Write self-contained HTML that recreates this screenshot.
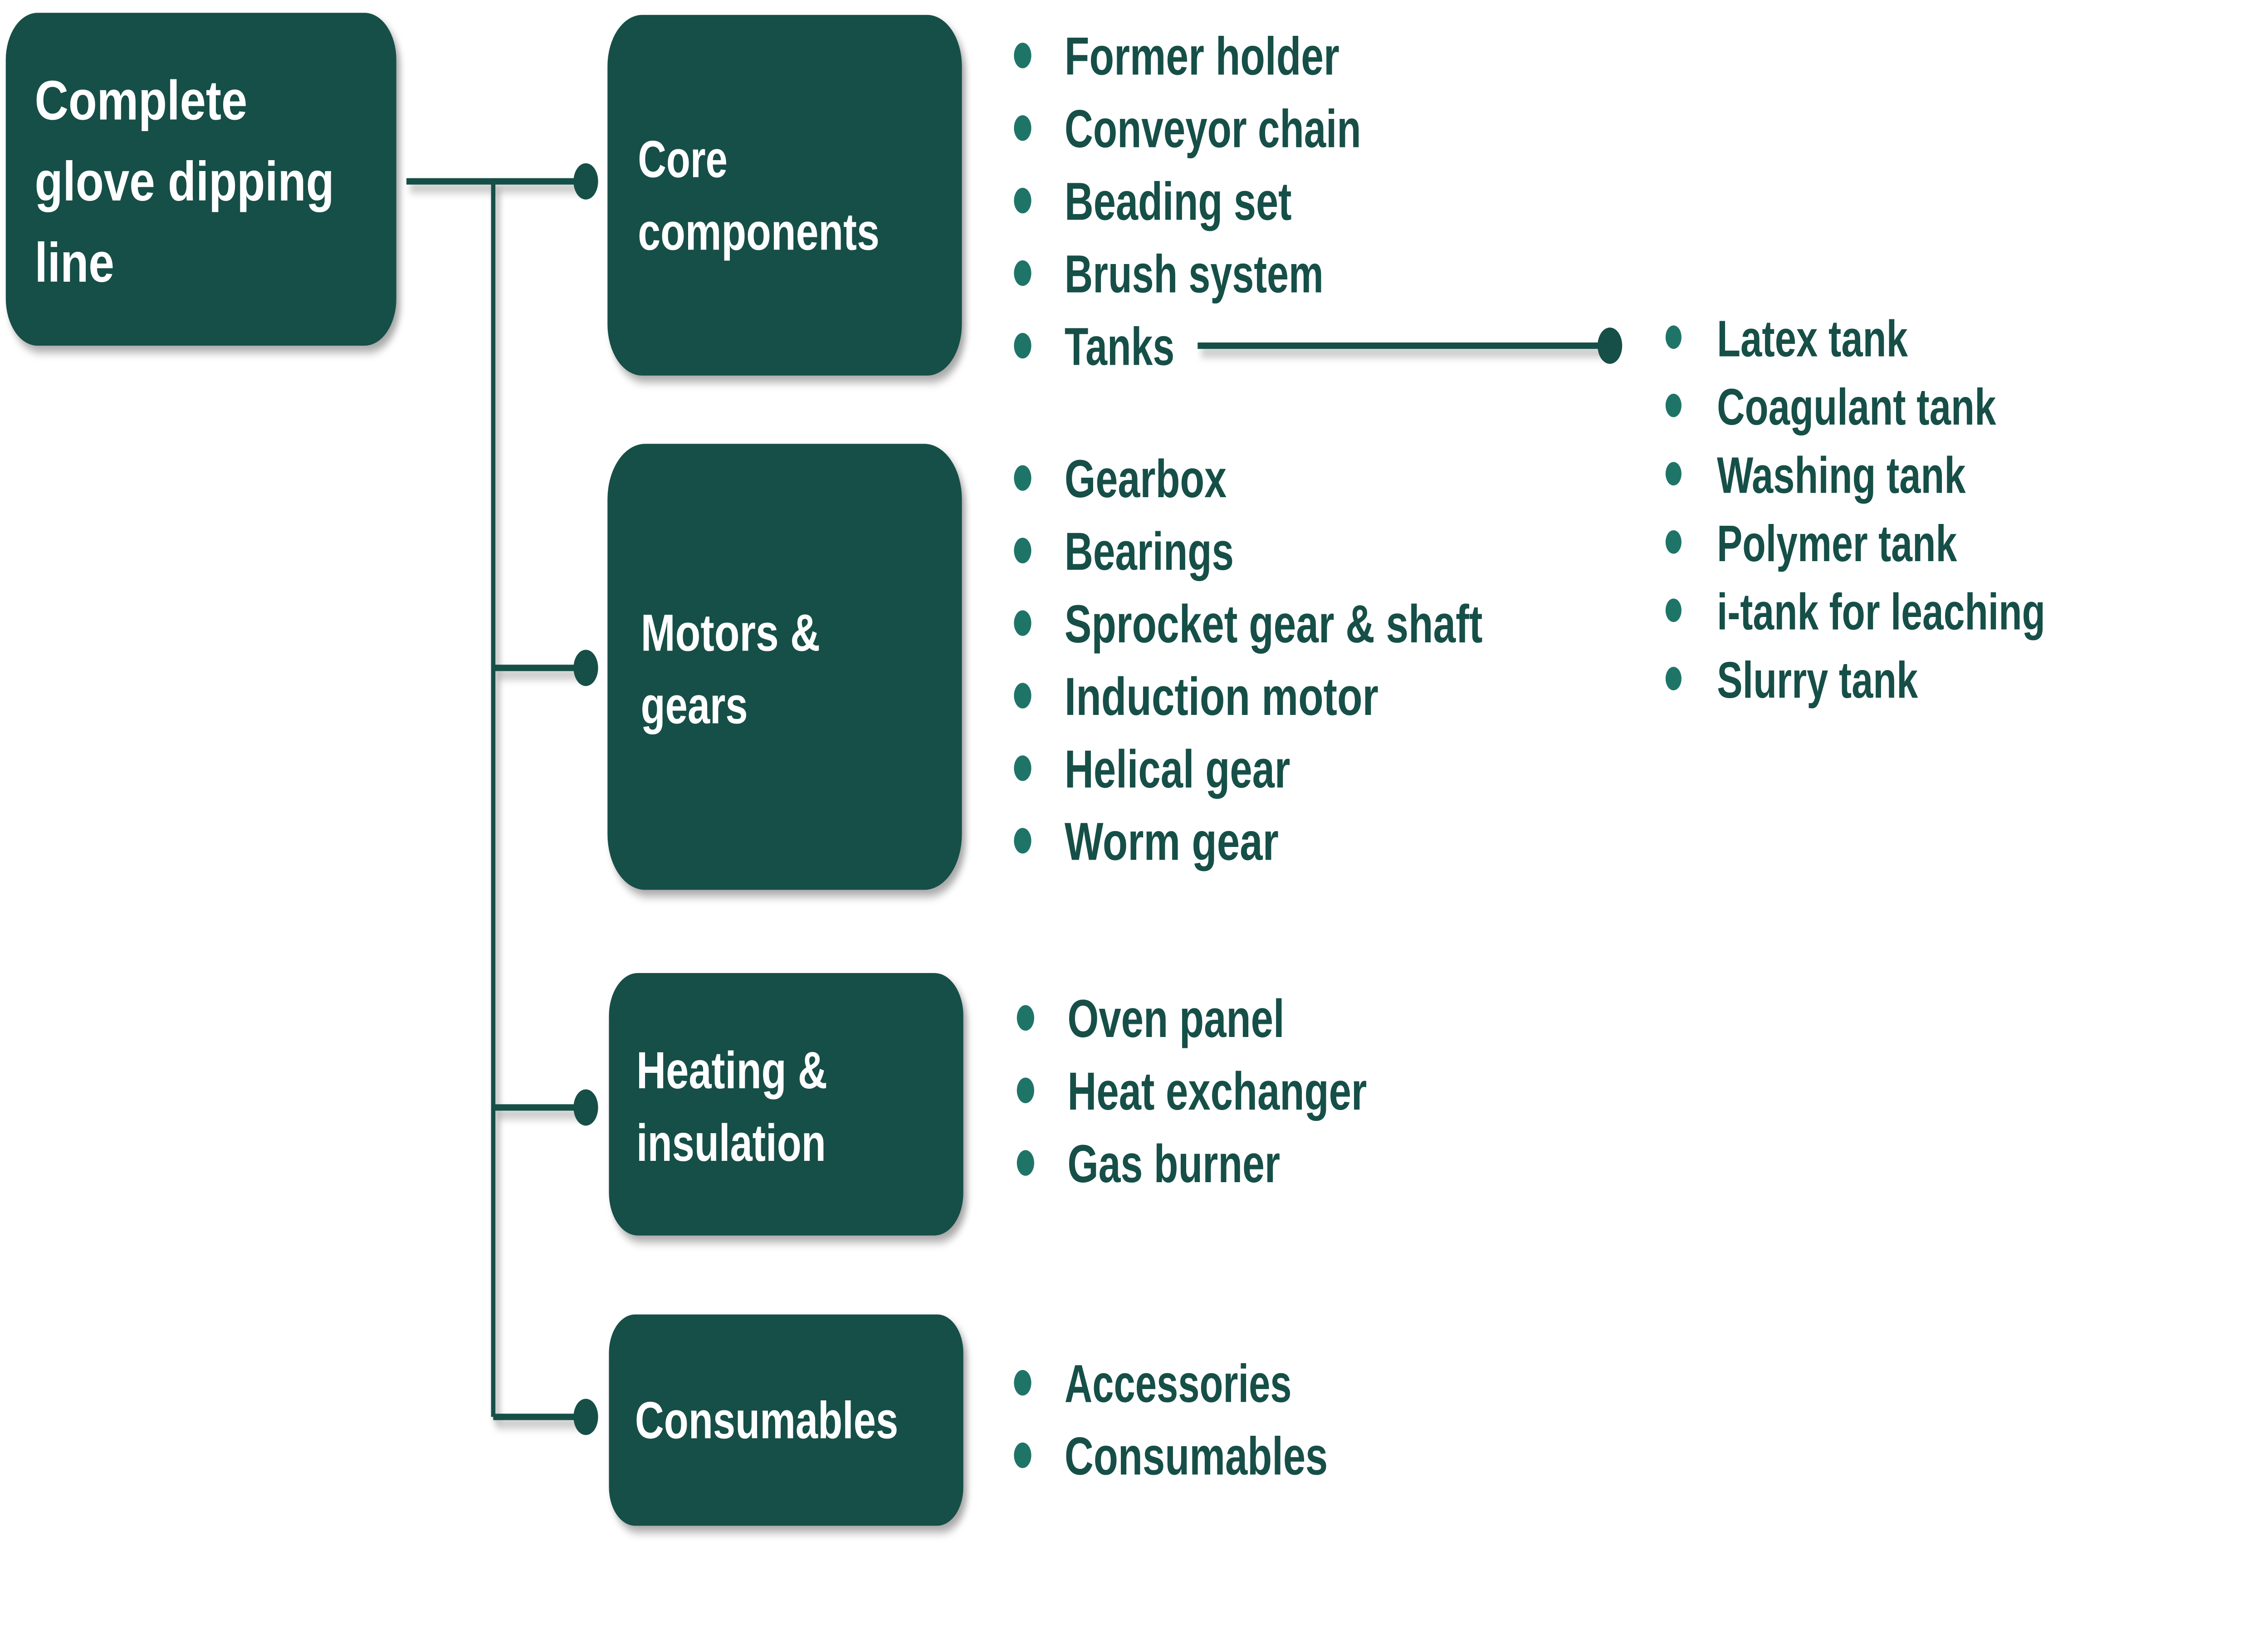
<!DOCTYPE html>
<html><head><meta charset="utf-8"><style>html,body{margin:0;padding:0;background:#fff;overflow:hidden;width:100vw;height:100vh}svg{display:block;width:100vw;height:100vh}</style></head>
<body>
<svg viewBox="0 0 1568 763.4" preserveAspectRatio="none" xmlns="http://www.w3.org/2000/svg">
<defs><filter id="s" x="-10%" y="-10%" width="130%" height="130%"><feDropShadow dx="2.5" dy="3" stdDeviation="2.2" flood-color="#000" flood-opacity="0.35"/></filter></defs>
<g fill="#164f47" filter="url(#s)">
<rect x="4" y="6" width="270" height="156" rx="22"/>
<rect x="420" y="7" width="245" height="169" rx="24"/>
<rect x="420" y="208" width="245" height="209" rx="26"/>
<rect x="421" y="456" width="245" height="123" rx="20"/>
<rect x="421" y="616" width="245" height="99" rx="18"/>
</g>
<g stroke="#164f47" stroke-width="3" fill="none" filter="url(#s)">
<path d="M281 85H405M341 85V664M341 313H405M341 519H405M341 664H405M828 162H1113"/>
</g>
<g fill="#164f47">
<circle cx="405" cy="85" r="8.5"/><circle cx="405" cy="313" r="8.5"/><circle cx="405" cy="519" r="8.5"/><circle cx="405" cy="664" r="8.5"/><circle cx="1113" cy="162" r="8.5"/>
</g>
<g font-family="Liberation Sans, Arial, sans-serif" font-weight="bold" fill="#fff" font-size="26" lengthAdjust="spacingAndGlyphs">
<text x="24" y="56" textLength="147" lengthAdjust="spacingAndGlyphs">Complete</text><text x="24" y="94" textLength="207" lengthAdjust="spacingAndGlyphs">glove dipping</text><text x="24" y="132" textLength="55" lengthAdjust="spacingAndGlyphs">line</text>
<text x="441" y="83" font-size="24.5" textLength="62" lengthAdjust="spacingAndGlyphs">Core</text><text x="441" y="117" font-size="24.5" textLength="167" lengthAdjust="spacingAndGlyphs">components</text>
<text x="443" y="305" font-size="24.5" textLength="124" lengthAdjust="spacingAndGlyphs">Motors &amp;</text><text x="443" y="339" font-size="24.5" textLength="74" lengthAdjust="spacingAndGlyphs">gears</text>
<text x="440" y="510" font-size="24.5" textLength="132" lengthAdjust="spacingAndGlyphs">Heating &amp;</text><text x="440" y="544" font-size="24.5" textLength="131" lengthAdjust="spacingAndGlyphs">insulation</text>
<text x="439" y="674" font-size="24.5" textLength="182" lengthAdjust="spacingAndGlyphs">Consumables</text>
</g>
<g fill="#1f7468">
<circle cx="707" cy="26" r="6"/><circle cx="707" cy="60" r="6"/><circle cx="707" cy="94" r="6"/><circle cx="707" cy="128" r="6"/><circle cx="707" cy="162" r="6"/>
<circle cx="707" cy="224" r="6"/><circle cx="707" cy="258" r="6"/><circle cx="707" cy="292" r="6"/><circle cx="707" cy="326" r="6"/><circle cx="707" cy="360" r="6"/><circle cx="707" cy="394" r="6"/>
<circle cx="709" cy="477" r="6"/><circle cx="709" cy="511" r="6"/><circle cx="709" cy="545" r="6"/>
<circle cx="707" cy="648" r="6"/><circle cx="707" cy="682" r="6"/>
<circle cx="1157" cy="158" r="5.5"/><circle cx="1157" cy="190" r="5.5"/><circle cx="1157" cy="222" r="5.5"/><circle cx="1157" cy="254" r="5.5"/><circle cx="1157" cy="286" r="5.5"/><circle cx="1157" cy="318" r="5.5"/>
</g>
<g font-family="Liberation Sans, Arial, sans-serif" font-weight="bold" fill="#164f47" font-size="25">
<text x="736" y="35" textLength="190" lengthAdjust="spacingAndGlyphs">Former holder</text>
<text x="736" y="69" textLength="205" lengthAdjust="spacingAndGlyphs">Conveyor chain</text>
<text x="736" y="103" textLength="157" lengthAdjust="spacingAndGlyphs">Beading set</text>
<text x="736" y="137" textLength="179" lengthAdjust="spacingAndGlyphs">Brush system</text>
<text x="736" y="171" textLength="76" lengthAdjust="spacingAndGlyphs">Tanks</text>
<text x="736" y="233" textLength="112" lengthAdjust="spacingAndGlyphs">Gearbox</text>
<text x="736" y="267" textLength="117" lengthAdjust="spacingAndGlyphs">Bearings</text>
<text x="736" y="301" textLength="289" lengthAdjust="spacingAndGlyphs">Sprocket gear &amp; shaft</text>
<text x="736" y="335" textLength="217" lengthAdjust="spacingAndGlyphs">Induction motor</text>
<text x="736" y="369" textLength="156" lengthAdjust="spacingAndGlyphs">Helical gear</text>
<text x="736" y="403" textLength="148" lengthAdjust="spacingAndGlyphs">Worm gear</text>
<text x="738" y="486" textLength="150" lengthAdjust="spacingAndGlyphs">Oven panel</text>
<text x="738" y="520" textLength="207" lengthAdjust="spacingAndGlyphs">Heat exchanger</text>
<text x="738" y="554" textLength="147" lengthAdjust="spacingAndGlyphs">Gas burner</text>
<text x="736" y="657" textLength="157" lengthAdjust="spacingAndGlyphs">Accessories</text>
<text x="736" y="691" textLength="182" lengthAdjust="spacingAndGlyphs">Consumables</text>
</g>
<g font-family="Liberation Sans, Arial, sans-serif" font-weight="bold" fill="#164f47" font-size="24">
<text x="1187" y="167" textLength="132" lengthAdjust="spacingAndGlyphs">Latex tank</text>
<text x="1187" y="199" textLength="193" lengthAdjust="spacingAndGlyphs">Coagulant tank</text>
<text x="1187" y="231" textLength="172" lengthAdjust="spacingAndGlyphs">Washing tank</text>
<text x="1187" y="263" textLength="166" lengthAdjust="spacingAndGlyphs">Polymer tank</text>
<text x="1187" y="295" textLength="227" lengthAdjust="spacingAndGlyphs">i-tank for leaching</text>
<text x="1187" y="327" textLength="139" lengthAdjust="spacingAndGlyphs">Slurry tank</text>
</g>
</svg>
</body></html>
